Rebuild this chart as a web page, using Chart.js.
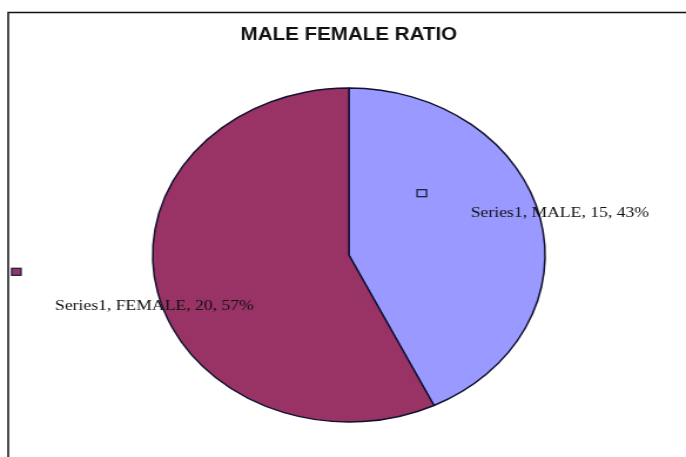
<!DOCTYPE html>
<html>
<head>
<meta charset="utf-8">
<title>MALE FEMALE RATIO</title>
<script src="https://cdn.jsdelivr.net/npm/chart.js@4.4.1/dist/chart.umd.min.js"></script>
<style>
  html, body { margin: 0; padding: 0; background: #fff; }
  #wrap { width: 686px; height: 457px; overflow: hidden; }
  /* the source picture is stretched sideways, so the canvas is too */
  #pieChart { width: 686px !important; height: 457px !important; display: block; }
</style>
</head>
<body>
<div id="wrap">
  <canvas id="pieChart" width="584" height="457"></canvas>
</div>
<script>
// ---- data ----
const categories = ['MALE', 'FEMALE'];
const seriesName = 'Series1';
const values = [15, 20];
const sliceColors = ['#9999FF', '#993366'];

// ---- frame around the chart (open on right & bottom, like the crop) ----
const framePlugin = {
  id: 'frame',
  beforeDraw(chart) {
    const c = chart.ctx;
    c.save();
    c.fillStyle = '#ffffff';
    c.fillRect(0, 0, chart.width, chart.height);
    c.strokeStyle = '#111111';
    c.lineWidth = 1.5;
    c.strokeRect(7, 12.5, chart.width + 80, chart.height + 80);
    c.restore();
  }
};

// ---- data labels "Series1, MALE, 15, 43%" + little key squares ----
const labelPlugin = {
  id: 'sliceLabels',
  afterDatasetsDraw(chart) {
    const c = chart.ctx;
    const meta = chart.getDatasetMeta(0);
    const total = values.reduce((a, b) => a + b, 0);
    c.save();
    c.font = '15px "Liberation Serif", "Times New Roman", serif';
    c.fillStyle = '#111111';
    c.textAlign = 'center';
    c.textBaseline = 'middle';
    meta.data.forEach((arc, i) => {
      const p = arc.getProps(['x', 'y', 'startAngle', 'endAngle', 'outerRadius'], true);
      const mid = (p.startAngle + p.endAngle) / 2;
      const lx = p.x + Math.cos(mid) * p.outerRadius * 1.06 + 7;
      const ly = p.y + Math.sin(mid) * p.outerRadius * 1.26 + 4.5;
      const pct = Math.round(values[i] / total * 100);
      c.fillText(seriesName + ', ' + categories[i] + ', ' + values[i] + ', ' + pct + '%', lx, ly);

      // key square left of / above each label
      const sx = lx - 117.5 - 4;
      const sy = ly - (i === 0 ? 19.5 : 34.5) - 3.5;
      c.lineWidth = 1.3;
      c.strokeStyle = '#222244';
      if (i === 1) {
        c.fillStyle = sliceColors[i];
        c.fillRect(sx, sy, 8, 7);
        c.fillStyle = '#111111';
      }
      c.strokeRect(sx, sy, 8, 7);
    });
    c.restore();
  }
};

const ctx = document.getElementById('pieChart').getContext('2d');
const pieChart = new Chart(ctx, {
  type: 'pie',
  data: {
    labels: categories,
    datasets: [{
      label: seriesName,
      data: values,
      backgroundColor: sliceColors,
      borderColor: '#121230',
      borderWidth: 1.5
    }]
  },
  options: {
    responsive: false,
    animation: false,
    radius: 167,
    layout: {
      padding: { left: 10, right: 0, top: 0, bottom: 35 }
    },
    plugins: {
      legend: { display: false },
      tooltip: { enabled: false },
      title: {
        display: true,
        text: 'MALE FEMALE RATIO',
        color: '#111111',
        font: { family: '"Liberation Sans", Arial, sans-serif', size: 17.5, weight: 'bold', lineHeight: 1.2 },
        padding: { top: 24.5, bottom: 42.5 }
      }
    }
  },
  plugins: [framePlugin, labelPlugin]
});
</script>
</body>
</html>
